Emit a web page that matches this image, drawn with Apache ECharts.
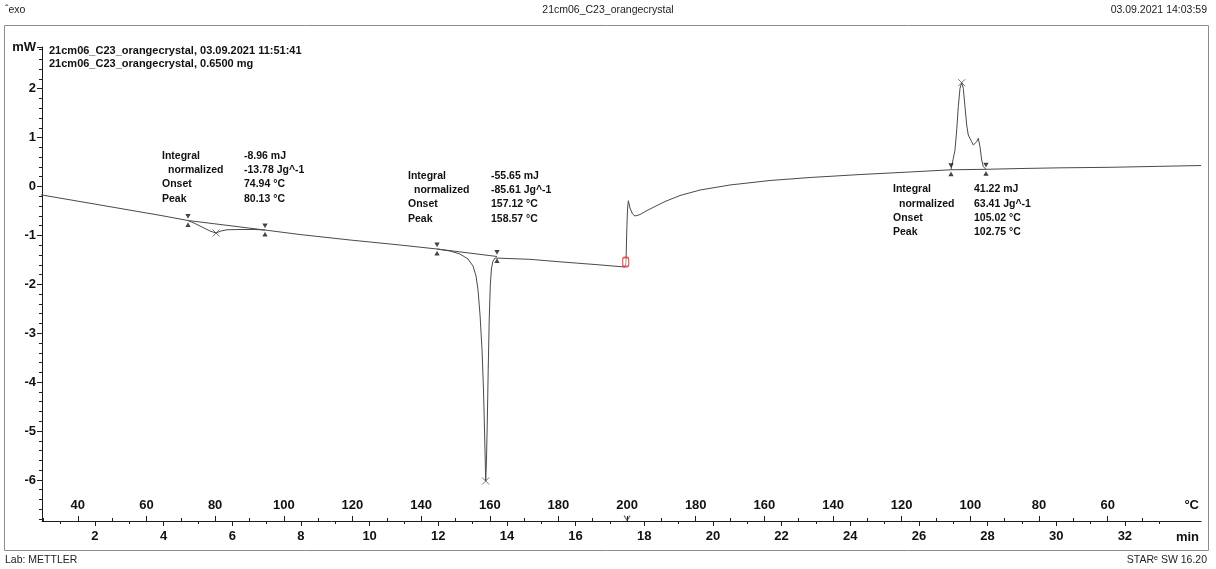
<!DOCTYPE html>
<html><head><meta charset="utf-8">
<script src="https://cdn.jsdelivr.net/npm/echarts@6/dist/echarts.min.js"></script>
<style>html,body{margin:0;padding:0;background:#fff}#c{width:1216px;height:569px}</style>
</head><body><div id="c"></div>
<script>
// ---- curve: time (min) vs heat flow (mW) ----
const timeMin = [0.020, 0.064, 0.166, 0.457, 1.564, 2.729, 3.895, 4.710, 4.914, 5.147, 5.351, 5.526, 5.671, 5.846, 6.225, 6.662, 6.953, 7.973, 9.429, 10.886, 11.964, 12.343, 12.634, 12.867, 13.013, 13.100, 13.158, 13.217, 13.275, 13.318, 13.347, 13.371, 13.382, 13.405, 13.429, 13.455, 13.484, 13.516, 13.551, 13.594, 13.653, 13.711, 14.672, 15.546, 16.566, 17.440, 17.469, 17.492, 17.512, 17.536, 17.585, 17.658, 17.731, 17.877, 18.080, 18.313, 18.605, 19.042, 19.624, 20.498, 21.663, 22.828, 24.284, 25.741, 26.936, 27.003, 27.052, 27.102, 27.148, 27.198, 27.247, 27.294, 27.343, 27.393, 27.439, 27.489, 27.538, 27.585, 27.634, 27.684, 27.731, 27.780, 27.830, 27.876, 27.955, 28.945, 30.111, 31.567, 33.023, 34.220];
const heatFlow = [-0.051, -0.235, -0.112, -0.174, -0.307, -0.448, -0.589, -0.695, -0.757, -0.838, -0.910, -0.951, -0.910, -0.885, -0.879, -0.879, -0.890, -0.982, -1.094, -1.196, -1.278, -1.319, -1.380, -1.483, -1.626, -1.830, -2.117, -2.628, -3.344, -4.162, -4.980, -5.695, -6.022, -5.593, -4.775, -3.753, -2.730, -2.014, -1.667, -1.524, -1.462, -1.431, -1.489, -1.540, -1.595, -1.646, -1.544, -0.890, -0.481, -0.290, -0.440, -0.562, -0.603, -0.573, -0.491, -0.409, -0.307, -0.184, -0.072, 0.031, 0.123, 0.184, 0.245, 0.297, 0.342, 0.577, 0.746, 1.155, 1.632, 2.008, 2.123, 2.008, 1.632, 1.258, 1.053, 1.018, 0.916, 0.849, 0.869, 0.916, 0.986, 0.814, 0.542, 0.405, 0.352, 0.368, 0.382, 0.393, 0.413, 0.429];

// ---- integration limits (pairs: start, end) ----
const limitTimes  = [4.710, 6.953, 11.964, 13.711, 26.936, 27.955];
const limitValues = [-0.695, -0.890, -1.278, -1.431, 0.342, 0.352];
// ---- peaks ----
const peakTimes  = [5.526, 13.382, 27.247];
const peakValues = [-0.951, -6.022, 2.123];
// ---- segment marker ----
const segmentTime = [17.46];
const segmentValue = [-1.544];

// ---- evaluation results ----
const integralMJ   = [-8.96, -55.65, 41.22];
const normalizedJg = [-13.78, -85.61, 63.41];
const onsetC       = [74.94, 157.12, 105.02];
const peakC        = [80.13, 158.57, 102.75];

// ---- axes ----
const xMin = 0.457, xMax = 34.218;
const yMin = -6.840, yMax = 2.853;
const timeLabels = [2, 4, 6, 8, 10, 12, 14, 16, 18, 20, 22, 24, 26, 28, 30, 32];
const timeMinor  = [1, 3, 5, 7, 9, 11, 13, 15, 17, 19, 21, 23, 25, 27, 29, 31, 33];
const tempTickTimes  = [1.5, 3.5, 5.5, 7.5, 9.5, 11.5, 13.5, 15.5, 17.5, 19.5, 21.5, 23.5, 25.5, 27.5, 29.5, 31.5];
const tempTickLabels = [40, 60, 80, 100, 120, 140, 160, 180, 200, 180, 160, 140, 120, 100, 80, 60];
const tempMinorTimes = [0.5, 2.5, 4.5, 6.5, 8.5, 10.5, 12.5, 14.5, 16.5, 18.5, 20.5, 22.5, 24.5, 26.5, 28.5, 30.5, 32.5];
const mWLabels = [-6, -5, -4, -3, -2, -1, 0, 1, 2];

const FONT = 'Liberation Sans, Arial, Helvetica, DejaVu Sans, sans-serif';
const AX = '#1e1e1e';
const mWMinor = [];
for (let k = -34; k <= 14; k++) { if (k % 5 !== 0) mWMinor.push(+(k * 0.2).toFixed(1)); }
const mWMajor = mWLabels.concat([yMax]);

const lab = { fontFamily: FONT, fontWeight: 'bold', fontSize: 13, color: '#111' };
function xax(extra) {
  return Object.assign({
    type: 'value', min: xMin, max: xMax, position: 'bottom',
    axisLine: { show: false, onZero: false },
    splitLine: { show: false }, axisLabel: { show: false }
  }, extra);
}
function yax(extra) {
  return Object.assign({
    type: 'value', min: yMin, max: yMax, position: 'left',
    axisLine: { show: false, onZero: false },
    splitLine: { show: false }, axisLabel: { show: false }
  }, extra);
}

const chart = echarts.init(document.getElementById('c'), null, { renderer: 'canvas' });

const series = [];
series.push({
  type: 'line', data: timeMin.map((t, i) => [t, heatFlow[i]]),
  showSymbol: false, symbol: 'none', clip: false, silent: true, z: 3,
  lineStyle: { color: '#4a4a4a', width: 1 }
});
for (let k = 0; k < limitTimes.length; k += 2) {
  series.push({
    type: 'line', data: [[limitTimes[k], limitValues[k]], [limitTimes[k + 1], limitValues[k + 1]]],
    showSymbol: false, symbol: 'none', silent: true, z: 3,
    lineStyle: { color: '#4a4a4a', width: 1 }
  });
}
series.push({
  type: 'scatter', data: limitTimes.map((t, i) => [t, limitValues[i]]), silent: true, z: 4,
  symbol: 'path://M0,0L4,0L2,4Z M2,4L2,5 M2,9L2,10 M0,14L4,14L2,10Z', symbolSize: [4, 12],
  itemStyle: { color: '#222', borderColor: '#222', borderWidth: 0.6 }
});
series.push({
  type: 'scatter', data: peakTimes.map((t, i) => [t, peakValues[i]]), silent: true, z: 4,
  symbol: 'path://M0,0L10,10M10,0L0,10', symbolSize: 7,
  itemStyle: { color: 'rgba(0,0,0,0)', borderColor: '#555', borderWidth: 1 }
});
series.push({
  type: 'scatter', data: segmentTime.map((t, i) => [t, segmentValue[i]]), silent: true, z: 5,
  symbol: 'roundRect', symbolSize: [6, 9],
  itemStyle: { color: 'rgba(255,255,255,0.6)', borderColor: '#e3342f', borderWidth: 1.5 }
});
series.push({
  type: 'scatter', data: [[tempTickTimes[8], yMin]], silent: true, clip: false, z: 5,
  symbol: 'path://M0,0L5,7L10,0', symbolSize: [6, 5], symbolOffset: [0, -3],
  itemStyle: { color: 'rgba(0,0,0,0)', borderColor: '#333', borderWidth: 1 }
});

// ---- annotation text ----
const annLayout = [{ lx: 162, vx: 244, y: 156 }, { lx: 408, vx: 491, y: 176 }, { lx: 893, vx: 974, y: 189.5 }];
const rowNames = ['Integral', 'normalized', 'Onset', 'Peak'];
const graphics = [];
function txt(x, y, s, font, align, color) {
  graphics.push({ type: 'text', x: x, y: y, silent: true, z: 10,
    style: { text: s, font: font, fill: color || '#111', align: align || 'left', textAlign: align || 'left',
      verticalAlign: 'middle', textVerticalAlign: 'middle' } });
}
const annFont = 'bold 10.5px ' + FONT;
annLayout.forEach((L, b) => {
  const vals = [integralMJ[b].toFixed(2) + ' mJ', normalizedJg[b].toFixed(2) + ' Jg^-1',
                onsetC[b].toFixed(2) + ' °C', peakC[b].toFixed(2) + ' °C'];
  rowNames.forEach((n, r) => {
    txt(L.lx + (r === 1 ? 6 : 0), L.y + r * 14.3, n, annFont);
    txt(L.vx, L.y + r * 14.3, vals[r], annFont);
  });
});
const hdrFont = '10.5px ' + FONT;
txt(5, 10, 'ˆexo', hdrFont, 'left', '#222');
txt(608, 10, '21cm06_C23_orangecrystal', hdrFont, 'center', '#222');
txt(1207, 10, '03.09.2021 14:03:59', hdrFont, 'right', '#222');
txt(5, 560, 'Lab: METTLER', hdrFont, 'left', '#222');
txt(1207, 560, 'STARᵉ SW 16.20', hdrFont, 'right', '#222');
txt(49, 50.5, '21cm06_C23_orangecrystal, 03.09.2021 11:51:41', 'bold 11px ' + FONT);
txt(49, 63.5, '21cm06_C23_orangecrystal, 0.6500 mg', 'bold 11px ' + FONT);
txt(1199, 505, '°C', 'bold 13px ' + FONT, 'right');
txt(1199, 537, 'min', 'bold 13px ' + FONT, 'right');
graphics.unshift({ type: 'rect', silent: true, z: 1,
  shape: { x: 4.5, y: 25.5, width: 1204, height: 525 },
  style: { fill: 'none', stroke: '#8c8c8c', lineWidth: 1 } });

chart.setOption({
  animation: false,
  backgroundColor: '#fff',
  grid: { left: 42, right: 15, top: 47, bottom: 48, containLabel: false, outerBoundsMode: 'none' },
  xAxis: [
    xax({ axisLine: { show: true, onZero: false, lineStyle: { color: AX, width: 1 } },
          axisTick: { show: true, customValues: timeLabels, length: 5, lineStyle: { color: AX } },
          axisLabel: Object.assign({ show: true, customValues: timeLabels, margin: 9 }, lab) }),
    xax({ axisTick: { show: true, customValues: timeMinor, length: 3, lineStyle: { color: AX } } }),
    xax({ axisTick: { show: true, inside: true, customValues: tempTickTimes, length: 5, lineStyle: { color: AX } },
          axisLabel: Object.assign({ show: true, inside: true, customValues: tempTickTimes, margin: 9,
            formatter: v => String(tempTickLabels[tempTickTimes.indexOf(v)]) }, lab) }),
    xax({ axisTick: { show: true, inside: true, customValues: tempMinorTimes, length: 3, lineStyle: { color: AX } } })
  ],
  yAxis: [
    yax({ axisLine: { show: true, onZero: false, lineStyle: { color: AX, width: 1 } },
          axisTick: { show: true, customValues: mWMajor, length: 5, lineStyle: { color: AX } },
          axisLabel: Object.assign({ show: true, customValues: mWMajor, margin: 6,
            formatter: v => (v === yMax ? 'mW' : String(v)) }, lab) }),
    yax({ axisTick: { show: true, customValues: mWMinor, length: 3, lineStyle: { color: AX } } })
  ],
  series: series,
  graphic: { elements: graphics }
});
</script>
</body></html>
